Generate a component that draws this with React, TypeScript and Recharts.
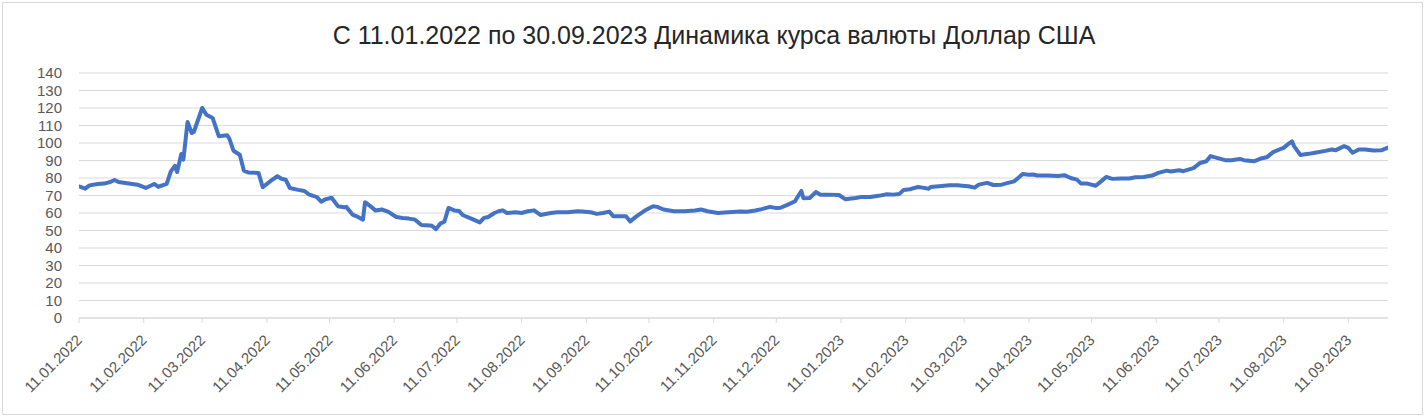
import React from 'react';
import { LineChart, Line, XAxis, YAxis, CartesianGrid } from 'recharts';

const TITLE = 'С 11.01.2022 по 30.09.2023 Динамика курса валюты Доллар США';

const dates: string[] = [
  '11.01.2022', '14.01.2022', '16.01.2022', '20.01.2022', '23.01.2022', '26.01.2022', '28.01.2022', '30.01.2022',
  '03.02.2022', '08.02.2022', '12.02.2022', '16.02.2022', '18.02.2022', '22.02.2022', '24.02.2022', '26.02.2022', '27.02.2022',
  '01.03.2022', '02.03.2022', '04.03.2022', '06.03.2022', '07.03.2022', '11.03.2022', '13.03.2022', '16.03.2022', '19.03.2022',
  '23.03.2022', '24.03.2022', '26.03.2022', '29.03.2022', '31.03.2022',
  '02.04.2022', '07.04.2022', '09.04.2022', '13.04.2022', '16.04.2022', '18.04.2022', '20.04.2022', '22.04.2022', '26.04.2022', '29.04.2022',
  '01.05.2022', '05.05.2022', '07.05.2022', '09.05.2022', '12.05.2022', '15.05.2022', '18.05.2022', '19.05.2022', '22.05.2022',
  '24.05.2022', '27.05.2022', '28.05.2022', '31.05.2022',
  '02.06.2022', '05.06.2022', '08.06.2022', '12.06.2022', '15.06.2022', '18.06.2022', '21.06.2022', '24.06.2022', '28.06.2022', '29.06.2022',
  '01.07.2022', '03.07.2022', '05.07.2022', '07.07.2022', '10.07.2022', '12.07.2022', '14.07.2022', '17.07.2022', '19.07.2022',
  '22.07.2022', '24.07.2022', '26.07.2022', '29.07.2022', '31.07.2022',
  '02.08.2022', '04.08.2022', '08.08.2022', '11.08.2022', '14.08.2022', '17.08.2022', '20.08.2022', '25.08.2022', '28.08.2022',
  '02.09.2022', '07.09.2022', '09.09.2022', '13.09.2022', '16.09.2022', '19.09.2022', '22.09.2022', '24.09.2022', '28.09.2022', '30.09.2022',
  '02.10.2022', '05.10.2022', '09.10.2022', '13.10.2022', '15.10.2022', '18.10.2022', '23.10.2022', '28.10.2022',
  '02.11.2022', '05.11.2022', '08.11.2022', '13.11.2022', '18.11.2022', '24.11.2022', '27.11.2022',
  '01.12.2022', '04.12.2022', '08.12.2022', '11.12.2022', '13.12.2022', '16.12.2022', '20.12.2022', '21.12.2022', '23.12.2022',
  '24.12.2022', '27.12.2022', '30.12.2022',
  '01.01.2023', '05.01.2023', '10.01.2023', '13.01.2023', '18.01.2023', '21.01.2023', '25.01.2023', '29.01.2023',
  '02.02.2023', '05.02.2023', '08.02.2023', '10.02.2023', '13.02.2023', '17.02.2023', '19.02.2023', '22.02.2023', '23.02.2023', '27.02.2023',
  '04.03.2023', '08.03.2023', '10.03.2023', '13.03.2023', '16.03.2023', '18.03.2023', '22.03.2023', '25.03.2023', '29.03.2023',
  '01.04.2023', '04.04.2023', '08.04.2023', '11.04.2023', '13.04.2023', '15.04.2023', '20.04.2023', '25.04.2023', '28.04.2023',
  '01.05.2023', '04.05.2023', '06.05.2023', '09.05.2023', '13.05.2023', '16.05.2023', '18.05.2023', '21.05.2023', '25.05.2023', '29.05.2023',
  '01.06.2023', '05.06.2023', '09.06.2023', '12.06.2023', '16.06.2023', '18.06.2023', '22.06.2023', '24.06.2023', '28.06.2023', '29.06.2023',
  '02.07.2023', '05.07.2023', '07.07.2023', '10.07.2023', '14.07.2023', '17.07.2023', '21.07.2023', '23.07.2023', '28.07.2023', '31.07.2023',
  '03.08.2023', '06.08.2023', '09.08.2023', '11.08.2023', '13.08.2023', '15.08.2023', '16.08.2023', '19.08.2023', '23.08.2023',
  '26.08.2023', '31.08.2023',
  '03.09.2023', '05.09.2023', '09.09.2023', '11.09.2023', '13.09.2023', '16.09.2023', '19.09.2023', '23.09.2023', '27.09.2023', '30.09.2023',
];

const rates: number[] = [
  75.2, 73.9, 75.8, 76.6, 76.8, 77.7, 78.9, 77.7,
  77.0, 76.2, 74.3, 76.6, 75.0, 76.6, 83.8, 87.0, 83.4,
  93.7, 90.5, 112.0, 105.7, 106.3, 120.0, 116.2, 114.3, 103.8,
  104.4, 102.5, 95.6, 93.3, 84.2,
  83.2, 82.9, 74.7, 78.5, 81.0, 79.6, 79.0, 74.3, 73.2, 72.6,
  70.7, 69.1, 66.4, 67.8, 68.7, 63.9, 63.3, 63.5, 59.1,
  58.1, 56.2, 66.2, 63.5,
  61.4, 62.0, 60.8, 57.7, 57.2, 56.8, 56.2, 53.1, 52.9, 52.7,
  50.8, 53.9, 55.0, 62.9, 61.4, 61.2, 58.7, 57.2, 56.2,
  54.6, 57.2, 57.7, 60.0, 61.0,
  61.5, 60.0, 60.4, 60.0, 61.0, 61.5, 58.9, 60.0, 60.4,
  60.4, 61.0, 60.8, 60.4, 59.5, 60.0, 60.8, 58.1, 58.1, 58.1,
  55.2, 58.1, 61.4, 63.9, 63.5, 62.0, 61.0, 61.0,
  61.4, 62.0, 61.0, 60.0, 60.4, 60.8, 60.7,
  61.4, 62.2, 63.5, 62.8, 63.0, 64.5, 66.7, 68.8, 72.6,
  68.4, 68.6, 72.0,
  70.5, 70.5, 70.3, 67.9, 68.6, 69.2, 69.2, 69.8,
  70.7, 70.5, 70.9, 73.2, 73.6, 74.9, 74.5, 73.9, 74.9, 75.3,
  75.8, 75.8, 75.6, 75.3, 74.5, 76.2, 77.2, 76.0, 76.2,
  77.2, 78.1, 82.3, 81.8, 82.0, 81.4, 81.4, 81.2, 81.6,
  80.0, 79.1, 76.8, 76.8, 75.6, 78.5, 80.6, 79.5, 79.7, 79.7,
  80.4, 80.6, 81.4, 82.9, 84.2, 83.7, 84.4, 83.9, 85.4, 85.8,
  88.6, 89.6, 92.5, 91.5, 90.2, 90.2, 90.9, 90.2, 89.6, 91.1,
  91.9, 94.8, 96.3, 97.2, 99.2, 100.9, 98.2, 93.2, 93.8,
  94.4, 95.5,
  96.3, 95.9, 98.2, 97.2, 94.4, 96.3, 96.3, 95.7, 95.9, 97.4,
];

const xTickLabels: string[] = [
  '11.01.2022', '11.02.2022', '11.03.2022', '11.04.2022', '11.05.2022', '11.06.2022', '11.07.2022',
  '11.08.2022', '11.09.2022', '11.10.2022', '11.11.2022', '11.12.2022', '11.01.2023', '11.02.2023',
  '11.03.2023', '11.04.2023', '11.05.2023', '11.06.2023', '11.07.2023', '11.08.2023', '11.09.2023',
];

const yTicks: number[] = [0, 10, 20, 30, 40, 50, 60, 70, 80, 90, 100, 110, 120, 130, 140];

const START = '11.01.2022';
const END = '30.09.2023';

function toDay(s: string): number {
  const [d, m, y] = s.split('.').map(Number);
  return Date.UTC(y, m - 1, d) / 86400000;
}

const data = dates.map((d, i) => ({ t: toDay(d), rate: rates[i] }));
const xTicks = xTickLabels.map(toDay);
const tickMap: Record<number, string> = {};
xTickLabels.forEach((l) => {
  tickMap[toDay(l)] = l;
});

const FONT = '"Liberation Sans", Arial, sans-serif';

const XTick = (props: any) => {
  const { x, y, payload } = props;
  return (
    <text
      x={0}
      y={0}
      transform={`translate(${x + 4},${y + 16}) rotate(-45)`}
      textAnchor="end"
      fill="#595959"
      fontSize={15}
      fontFamily={FONT}
    >
      {tickMap[payload.value]}
    </text>
  );
};

export default function App() {
  return (
    <div style={{ position: 'absolute', left: 0, top: 0, width: 1428, height: 419, background: '#fff' }}>
      <div
        style={{
          position: 'absolute',
          left: 2,
          top: 2,
          width: 1421,
          height: 413,
          border: '1px solid #d9d9d9',
          boxSizing: 'border-box',
        }}
      />
      <div
        style={{
          position: 'absolute',
          left: 0,
          top: 20,
          width: 1428,
          height: 30,
          lineHeight: '30px',
          textAlign: 'center',
          fontFamily: FONT,
          fontSize: 25,
          color: '#262626',
        }}
      >
        {TITLE}
      </div>
      <div style={{ position: 'absolute', left: 0, top: 0 }}>
        <LineChart width={1428} height={419} data={data} margin={{ top: 73, right: 40, bottom: 1, left: 0 }}>
          <CartesianGrid vertical={false} stroke="#d9d9d9" strokeWidth={1} />
          <XAxis
            dataKey="t"
            type="number"
            domain={[toDay(START), toDay(END)]}
            ticks={xTicks}
            interval={0}
            height={100}
            stroke="#d9d9d9"
            tickSize={5}
            tickMargin={2}
            tickLine={{ stroke: '#d9d9d9' }}
            axisLine={{ stroke: '#d9d9d9' }}
            tick={<XTick />}
            allowDataOverflow
          />
          <YAxis
            type="number"
            domain={[0, 140]}
            ticks={yTicks}
            interval={0}
            width={79}
            axisLine={false}
            tickLine={false}
            tickSize={0}
            tickMargin={17}
            tick={{ fill: '#595959', fontSize: 15, fontFamily: FONT }}
          />
          <Line
            type="linear"
            dataKey="rate"
            stroke="#4472C4"
            strokeWidth={4}
            dot={false}
            activeDot={false}
            strokeLinejoin="round"
            strokeLinecap="round"
            isAnimationActive={false}
          />
        </LineChart>
      </div>
    </div>
  );
}
